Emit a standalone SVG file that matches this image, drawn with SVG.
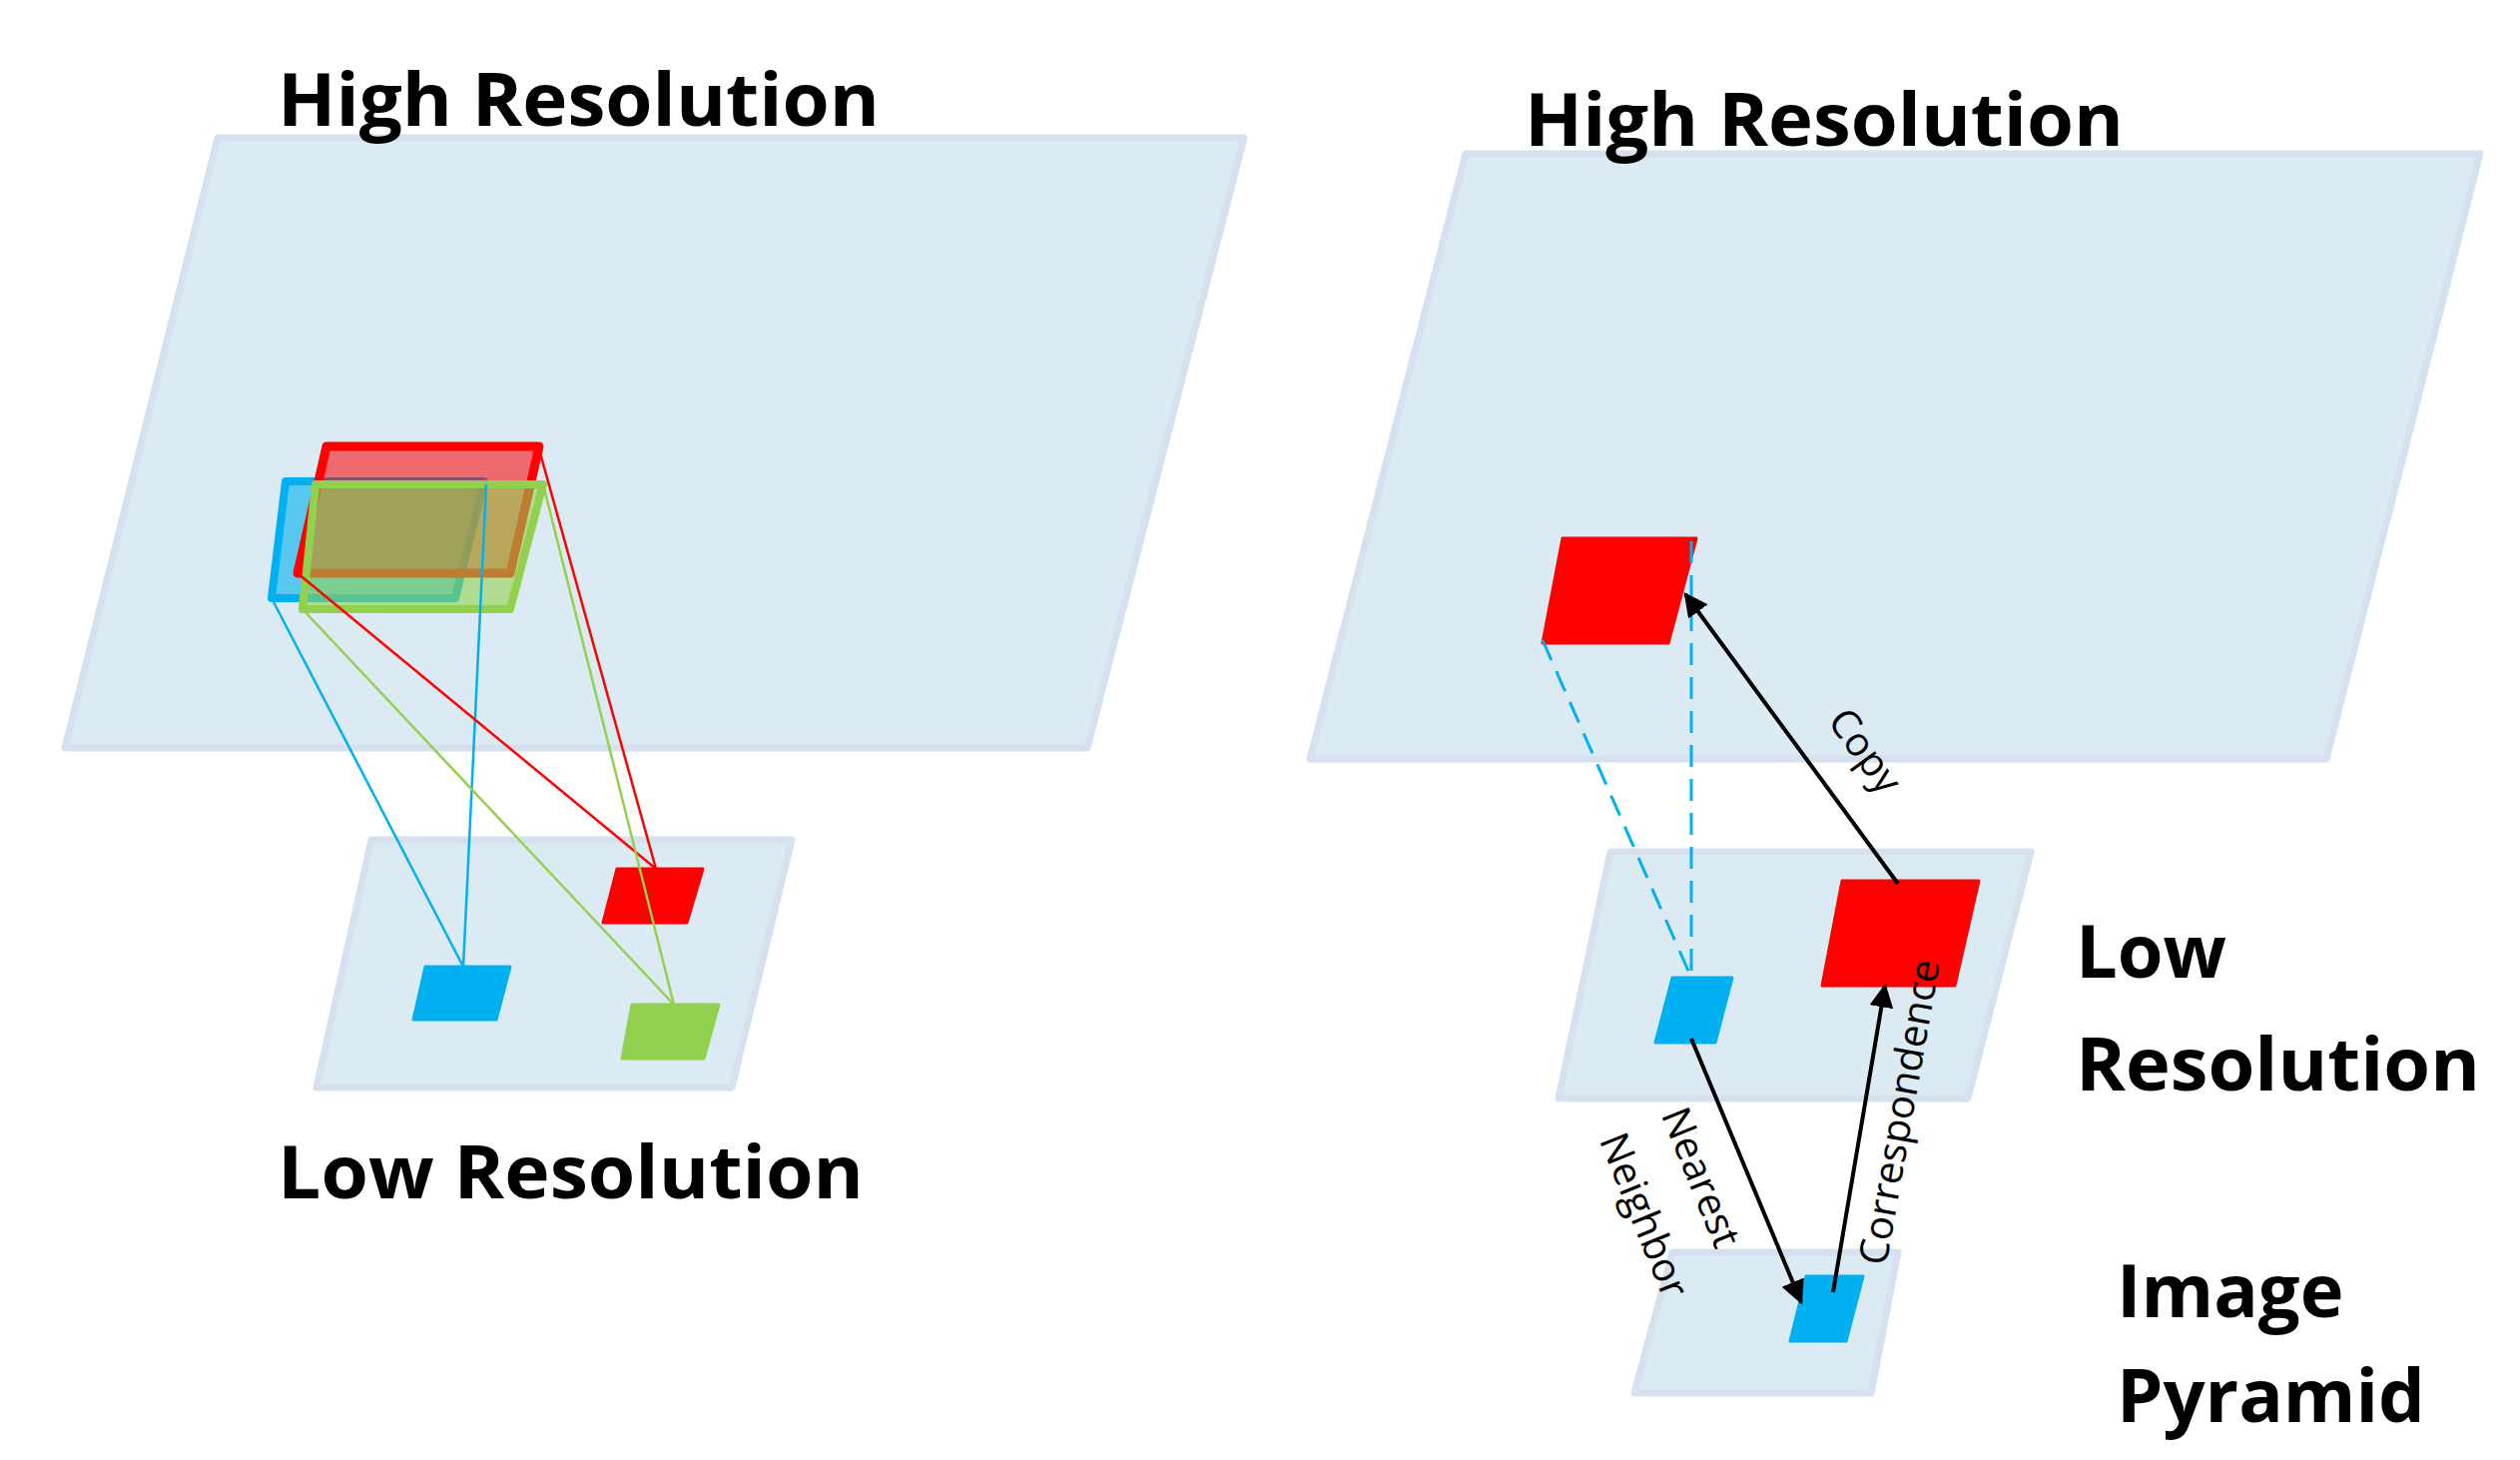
<svg xmlns="http://www.w3.org/2000/svg" width="2524" height="1462" viewBox="0 0 2524 1462">
<style>
.plane{fill:#dcebf3;stroke:#d5e1ee;stroke-width:7;stroke-linejoin:round}
.t{font-family:"Open Sans","Liberation Sans",sans-serif;font-weight:bold;font-size:74px;fill:#000}
.s{font-family:"Open Sans","Liberation Sans",sans-serif;font-size:40px;fill:#000}
.ar{stroke:#000;stroke-width:4;fill:none;marker-end:url(#ah)}
</style>
<defs>
<marker id="ah" viewBox="0 0 10 10" refX="9" refY="5" markerWidth="6" markerHeight="6" orient="auto" markerUnits="strokeWidth"><path d="M0,0L10,5L0,10z" fill="#000"/></marker>
</defs>
<rect width="2524" height="1462" fill="#fff"/>
<g id="left-high"><polygon class="plane" points="218,138 1246,138 1089,749 65,749"/></g>
<g id="left-low"><polygon class="plane" points="372,841 793,841 733,1089 317,1089"/></g>
<g id="left-hr-patches">
<polygon points="286,482 485,482 456,599 272,599" fill="#00b0f0" fill-opacity="0.6" stroke="#00b0f0" stroke-width="8" stroke-linejoin="round"/>
<polygon points="327,447 540,447 511,574 298,574" fill="#ff0000" fill-opacity="0.55" stroke="#ff0000" stroke-width="9" stroke-linejoin="round"/>
<polygon points="316,485 544,485 511,610 303,610" fill="#92d050" fill-opacity="0.6" stroke="#92d050" stroke-width="8" stroke-linejoin="round"/>
</g>
<g id="left-lr-patches">
<polygon points="618,870 704,870 688,924 604,924" fill="#ff0000" stroke="#ff0000" stroke-width="3" stroke-linejoin="round"/>
<polygon points="426,968 511,968 497,1021 414,1021" fill="#00b0f0" stroke="#00b0f0" stroke-width="3" stroke-linejoin="round"/>
<polygon points="633,1006 720,1006 705,1060 623,1060" fill="#92d050" stroke="#92d050" stroke-width="3" stroke-linejoin="round"/>
</g>
<g id="left-connectors" stroke-width="2.5">
<line x1="272" y1="599" x2="464" y2="968" stroke="#00b0f0"/>
<line x1="487" y1="485" x2="464" y2="968" stroke="#00b0f0"/>
<line x1="298" y1="574" x2="657" y2="870" stroke="#ff0000"/>
<line x1="540" y1="450" x2="657" y2="870" stroke="#ff0000"/>
<line x1="303" y1="610" x2="675" y2="1006" stroke="#92d050"/>
<line x1="544" y1="485" x2="675" y2="1006" stroke="#92d050"/>
</g>
<g id="left-labels">
<text class="t" x="278" y="126" textLength="603" lengthAdjust="spacingAndGlyphs">High Resolution</text>
<text class="t" x="278" y="1200" textLength="587" lengthAdjust="spacingAndGlyphs">Low Resolution</text>
</g>
<g id="right-high"><polygon class="plane" points="1468,154 2484,154 2330,760 1312,760"/></g>
<g id="right-mid"><polygon class="plane" points="1613,853 2034,853 1971,1100 1561,1100"/></g>
<g id="right-low"><polygon class="plane" points="1675,1254 1901,1254 1874,1395 1637,1395"/></g>
<g id="right-patches">
<polygon points="1565,539 1699,539 1671,644 1545,644" fill="#ff0000" stroke="#ff0000" stroke-width="3" stroke-linejoin="round"/>
<polygon points="1845,882 1982,882 1958,987 1825,987" fill="#ff0000" stroke="#ff0000" stroke-width="3" stroke-linejoin="round"/>
<polygon points="1675,979 1735,979 1718,1044 1658,1044" fill="#00b0f0" stroke="#00b0f0" stroke-width="3" stroke-linejoin="round"/>
<polygon points="1809,1278 1866,1278 1849,1343 1793,1343" fill="#00b0f0" stroke="#00b0f0" stroke-width="3" stroke-linejoin="round"/>
</g>
<g id="right-connectors">
<line x1="1545" y1="641" x2="1694" y2="979" stroke="#00b0f0" stroke-width="3" stroke-dasharray="22,12"/>
<line x1="1694" y1="542" x2="1694" y2="979" stroke="#00b0f0" stroke-width="3" stroke-dasharray="22,12"/>
<line class="ar" x1="1901" y1="885" x2="1688" y2="595"/>
<line class="ar" x1="1694" y1="1040" x2="1804" y2="1304"/>
<line class="ar" x1="1836" y1="1294" x2="1888" y2="987"/>
</g>
<g id="right-labels">
<text class="s" transform="translate(1857,760) rotate(54)" text-anchor="middle">Copy</text>
<text class="s" transform="translate(1916,1116) rotate(-80)" text-anchor="middle">Correspondence</text>
<text class="s" transform="translate(1691,1184) rotate(68)" text-anchor="middle">Nearest</text>
<text class="s" transform="translate(1634,1222) rotate(68)" text-anchor="middle">Neighbor</text>
<text class="t" x="1527" y="146" textLength="600" lengthAdjust="spacingAndGlyphs">High Resolution</text>
<text class="t" x="2079" y="979">Low</text>
<text class="t" x="2079" y="1092" textLength="405" lengthAdjust="spacingAndGlyphs">Resolution</text>
<text class="t" x="2120" y="1319">Image</text>
<text class="t" x="2120" y="1424">Pyramid</text>
</g>
</svg>
